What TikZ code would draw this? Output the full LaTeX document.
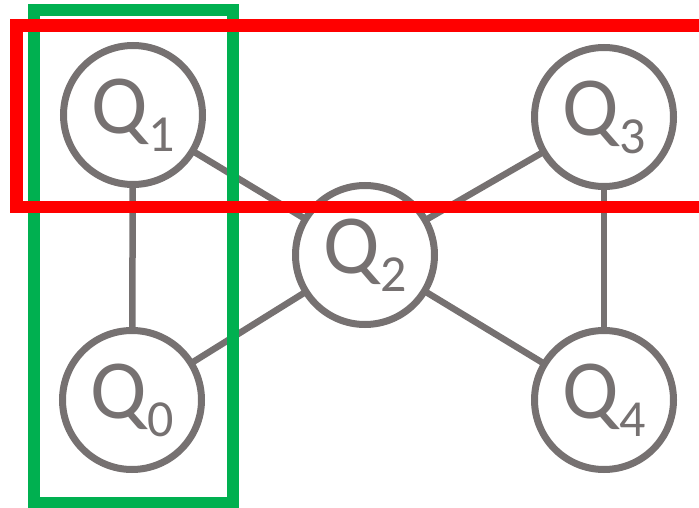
\documentclass[tikz,border=0pt]{standalone}
\usepackage{fontspec}
\setmainfont{Carlito}
\definecolor{qgray}{HTML}{767171}
\definecolor{qgreen}{HTML}{00B050}
\definecolor{qred}{HTML}{FF0000}
\newcommand{\qlab}[1]{\fontsize{84}{84}\selectfont Q\raisebox{-18pt}{\fontsize{52}{52}\selectfont #1}}
\tikzset{
  qubit/.style={circle, draw=qgray, line width=7pt, fill=white, minimum size=139pt, inner sep=0pt, outer sep=0pt, text=qgray},
  link/.style={draw=qgray, line width=6.5pt},
  greenbox/.style={draw=qgreen, line width=12pt},
  redbox/.style={draw=qred, line width=12.5pt}
}
\begin{document}
\begin{tikzpicture}[x=1pt,y=-1pt]
\useasboundingbox (0,0) rectangle (699,508);
\node[qubit] (q1) at (133,115) {\qlab{1}};
\node[qubit] (q3) at (604,117) {\qlab{3}};
\node[qubit] (q2) at (365,255) {\qlab{2}};
\node[qubit] (q0) at (132,400) {\qlab{0}};
\node[qubit] (q4) at (604,400) {\qlab{4}};
\draw[link] (q1) -- (q0);
\draw[link] (q3) -- (q4);
\draw[link] (q1) -- (q2);
\draw[link] (q3) -- (q2);
\draw[link] (q0) -- (q2);
\draw[link] (q4) -- (q2);
\coordinate (g1) at (34,10);
\coordinate (g2) at (233,503);
\draw[greenbox] (g1) rectangle (g2);
\coordinate (r1) at (16.5,25.5);
\coordinate (r2) at (720,207);
\draw[redbox] (r1) rectangle (r2);
\end{tikzpicture}
\end{document}
